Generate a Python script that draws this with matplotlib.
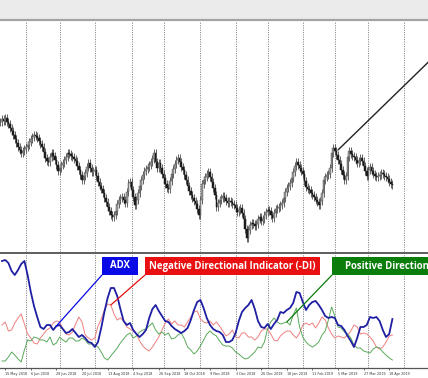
import matplotlib
matplotlib.use('Agg')
import matplotlib.pyplot as plt
import numpy as np
import pandas as pd
from matplotlib.patches import Rectangle
from matplotlib.lines import Line2D

# daily closes, one per trading bar (points above the chart floor)
closes = [
    130, 133, 131, 134, 130, 128, 124, 121, 117, 113,
    109, 105, 102, 99, 101, 103, 105, 107, 110, 113,
    115, 117, 116, 114, 111, 108, 105, 100, 94, 91,
    90, 95, 99, 96, 92, 87, 81, 84, 87, 89,
    92, 95, 99, 98, 96, 95, 93, 91, 86, 82,
    77, 72, 76, 79, 85, 89, 84, 80, 81, 82,
    76, 70, 66, 63, 59, 54, 50, 45, 41, 37,
    35, 37, 41, 48, 52, 54, 55, 52, 49, 60,
    69, 70, 62, 55, 47, 52, 59, 66, 72, 77,
    81, 83, 85, 87, 90, 93, 99, 90, 84, 89,
    84, 78, 74, 68, 64, 63, 71, 78, 83, 88,
    92, 94, 90, 85, 82, 77, 72, 66, 61, 57,
    54, 51, 48, 43, 37, 52, 68, 72, 75, 78,
    80, 75, 70, 64, 57, 45, 49, 52, 54, 56,
    54, 51, 49, 51, 50, 48, 47, 44, 40, 42,
    44, 39, 33, 23, 14, 22, 27, 29, 28, 26,
    28, 33, 35, 31, 33, 37, 40, 42, 41, 37,
    34, 39, 43, 44, 45, 47, 49, 54, 60, 64,
    66, 69, 74, 80, 86, 90, 87, 84, 81, 78,
    71, 65, 63, 62, 59, 57, 55, 52, 50, 47,
    51, 59, 72, 75, 77, 78, 84, 99, 104, 101,
    97, 92, 88, 82, 77, 72, 76, 95, 101, 98,
    96, 95, 92, 89, 91, 94, 91, 86, 81, 76,
    82, 85, 81, 78, 76, 75, 76, 77, 79, 78,
    76, 75, 73, 70, 68, 67,
]

# indicator readings, every second bar starting at bar 1
adx = [
    53.5, 54, 52.5, 48.5, 46.5, 49, 52, 53.5, 46.5, 38,
    31, 25.5, 20.5, 19.5, 21.5, 21.5, 19, 21, 21.5, 19.5,
    17.5, 18, 19.5, 17.5, 15.5, 16.5, 15, 13, 12.5, 10.5,
    13, 20, 28, 35, 40, 40, 36, 29.5, 23.5, 21.5,
    22.5, 19, 17, 15.5, 17, 19, 25, 29.5, 31.5, 28.5,
    26, 23.5, 23, 21, 19.5, 18.5, 17.5, 18.5, 20, 24,
    29, 33, 34, 30, 25, 21.5, 19.5, 18.5, 18, 16.5,
    13, 13, 14, 17.5, 23.5, 28, 30, 31.5, 34, 29.5,
    23.5, 20.5, 20, 22, 19.5, 22, 24, 28, 27.5, 29,
    30, 32.5, 38, 37.5, 33, 29, 31.5, 33, 33.5, 31.5,
    29, 26, 25, 25.5, 25, 21.5, 21, 19, 16, 13.5,
    10.5, 15, 20.5, 20.5, 21.5, 25.5, 25, 25.5, 23.5, 19,
    15.5, 17, 24.5,
]
minus_di = [
    21.5, 23, 18.5, 19, 22.5, 25, 27, 22, 17, 15,
    12.5, 12, 15, 17, 19, 20, 22.5, 23.5, 23, 19.5,
    17, 16.5, 18, 22, 25.5, 23, 16.5, 15, 14, 15,
    21, 24.5, 29, 32, 31.5, 27, 24, 25, 23.5, 20.5,
    19.5, 18.5, 17, 13.5, 11, 9.5, 8.5, 10.5, 13, 15.5,
    19, 22.5, 24.5, 22, 23.5, 21.5, 21.5, 20.5, 23, 25.5,
    28, 28.5, 24.5, 23, 22.5, 23.5, 21.5, 23, 21, 18.5,
    16, 17, 19, 15.5, 15, 17.5, 17.5, 15.5, 15.5, 14,
    15.5, 18.5, 19.5, 19.5, 17, 14, 13.5, 16, 17.5, 18.5,
    18.5, 16.5, 15, 17.5, 21.5, 22.5, 21.5, 22.5, 20, 22.5,
    25.5, 24, 20, 17, 15, 16, 15.5, 15, 16.5, 18.5,
    21.5, 20.5, 17, 17.5, 17, 15.5, 13.5, 10.5, 9.5, 10.5,
    13, 16, 16.5,
]
plus_di = [
    3.5, 3.5, 5.5, 8, 6.5, 4.5, 3, 9, 14, 13.5,
    15.5, 15, 14, 14, 13, 15.5, 11.5, 12.5, 15.5, 14,
    13, 15, 15, 13.5, 13.5, 15, 14, 12, 12, 11.5,
    10.5, 8, 5, 4, 6, 8, 10, 12.5, 14.5, 16.5,
    17.5, 15, 16, 18, 19, 19.5, 21, 22.5, 19, 17,
    18, 16.5, 17.5, 14.5, 15, 16.5, 17.5, 14.5, 10.5, 9,
    7, 8.5, 11, 14, 17, 18.5, 17, 16, 13.5, 11.5,
    11, 11, 10, 8, 7, 5.5, 4.5, 5, 6.5, 8,
    10.5, 10, 13, 19.5, 23, 25, 23, 22, 22.5, 23,
    21.5, 26.5, 30, 20.5, 15.5, 13, 11.5, 10.5, 11.5, 13,
    16.5, 18.5, 24, 30.5, 26, 20.5, 20, 18, 17, 15,
    11.5, 10, 10, 8.5, 8, 7.5, 9.5, 10.5, 10, 8,
    6.5, 5, 4,
]

holidays = ['2018-12-25', '2019-01-01']
label_dates = ['2018-05-15', '2018-06-06', '2018-06-28', '2018-07-20',
               '2018-08-13', '2018-09-04', '2018-09-26', '2018-10-18',
               '2018-11-09', '2018-12-03', '2018-12-26', '2019-01-18',
               '2019-02-11', '2019-03-05', '2019-03-27', '2019-04-18']

WICK = 4

# trading calendar of the chart (weekdays, broker holidays removed)
dates = pd.bdate_range('2018-05-10', '2019-05-15')
dates = dates[~dates.isin(pd.to_datetime(holidays))]

n = len(closes)
x = np.arange(n)
c = np.array(closes, dtype=float)
o = np.r_[c[:1], c[:-1]]
hi = np.maximum(o, c) + WICK
lo = np.minimum(o, c) - WICK
up = c >= o
xi = np.arange(1, n, 2)

month_idx = np.flatnonzero(dates.month[1:] != dates.month[:-1]) + 1
lab_dt = pd.to_datetime(label_dates)
label_idx = [dates.get_loc(d) for d in lab_dt]
labels = [f'{d.day} {d:%b %Y}' for d in lab_dt]

W, H = 428, 378
fig = plt.figure(figsize=(W / 100, H / 100), dpi=100)
fig.patch.set_facecolor('white')

# header strip of the terminal window
fig.patches.append(Rectangle((0, 1 - 19 / H), 1, 19 / H, transform=fig.transFigure,
                             facecolor='#ebebeb', edgecolor='none', zorder=0))
fig.lines.append(Line2D([0, 1], [1 - 20 / H] * 2, transform=fig.transFigure,
                        color='#a4a4a4', lw=1.6))

ax_p = fig.add_axes([0, 1 - 252 / H, 1, 231 / H])
ax_i = fig.add_axes([0, 1 - 368 / H, 1, 114 / H])

xlim = (-0.25, 267.25)
for ax in (ax_p, ax_i):
    ax.set_xlim(*xlim)
    ax.set_facecolor('none')
    for s in ax.spines.values():
        s.set_visible(False)
    ax.set_yticks([])
    for m in month_idx:
        ax.axvline(m, color='#8c8c8c', lw=0.7, ls=(0, (1.2, 1.2)), zorder=1)

# price candles
ax_p.set_ylim(0, 231)
ax_p.set_xticks([])
ax_p.vlines(x, lo, hi, color='#4a4a4a', lw=0.6, zorder=2)
ax_p.bar(x[up], (c - o)[up], bottom=o[up], width=0.9, color='#9a9a9a',
         edgecolor='#5a5a5a', lw=0.35, zorder=3)
ax_p.bar(x[~up], (c - o)[~up], bottom=o[~up], width=0.9, color='#1c1c1c',
         edgecolor='#1c1c1c', lw=0.35, zorder=3)
ax_p.annotate('', xy=(211, 102), xytext=(1.08, 0.965), xycoords='data',
              textcoords='axes fraction',
              arrowprops=dict(arrowstyle='-', color='#222222', lw=1.0,
                              shrinkA=0, shrinkB=0))

fig.lines.append(Line2D([0, 1], [1 - 253 / H] * 2, transform=fig.transFigure,
                        color='#505050', lw=1.3))

# ADX window
ax_i.set_ylim(0, 57)
ax_i.plot(xi, minus_di, color='#ef7f7f', lw=0.7, zorder=3)
ax_i.plot(xi, plus_di, color='#5aa95a', lw=0.7, zorder=3)
ax_i.plot(xi, adx, color='#1f1fa3', lw=1.3, zorder=4)

ax_i.spines['bottom'].set_visible(True)
ax_i.spines['bottom'].set_color('#555555')
ax_i.spines['bottom'].set_linewidth(0.9)
ax_i.set_xticks(label_idx, labels=labels)
ax_i.tick_params(axis='x', length=1.5, width=0.5, pad=1.2, labelsize=2.4,
                 colors='#333333')
for t in ax_i.get_xticklabels():
    t.set_horizontalalignment('left')

boxes = [
    ('ADX', '#0a0ae6', 102, 138, adx[17], 17),
    ('Negative Directional Indicator (-DI)', '#e81010', 145, 320, minus_di[34], 34),
    ('Positive Directional Indicator (+DI)', '#0b7d0b', 332, 520, plus_di[89], 89),
]
y0 = (368 - 275) / 114
bh = 18 / 114
for text, col, px0, px1, val, k in boxes:
    x0 = px0 / W
    ax_i.add_patch(Rectangle((x0, y0), (px1 - px0) / W, bh, transform=ax_i.transAxes,
                             facecolor=col, edgecolor='none', zorder=6, clip_on=False))
    if px1 > W:
        ax_i.text((px0 + 13) / W, y0 + bh / 2, text, transform=ax_i.transAxes,
                  ha='left', va='center', color='white', fontsize=6.9,
                  fontweight='bold', family=['Open Sans', 'DejaVu Sans'], zorder=7)
    else:
        ax_i.text((px0 + px1) / 2 / W, y0 + bh / 2, text, transform=ax_i.transAxes,
                  ha='center', va='center', color='white', fontsize=6.9,
                  fontweight='bold', family=['Open Sans', 'DejaVu Sans'], zorder=7)
    ax_i.annotate('', xy=(xi[k], val), xytext=(x0, y0), xycoords='data',
                  textcoords='axes fraction',
                  arrowprops=dict(arrowstyle='-', color=col, lw=0.9,
                                  shrinkA=0, shrinkB=0), zorder=5)

fig.savefig('out.png', dpi=100)
